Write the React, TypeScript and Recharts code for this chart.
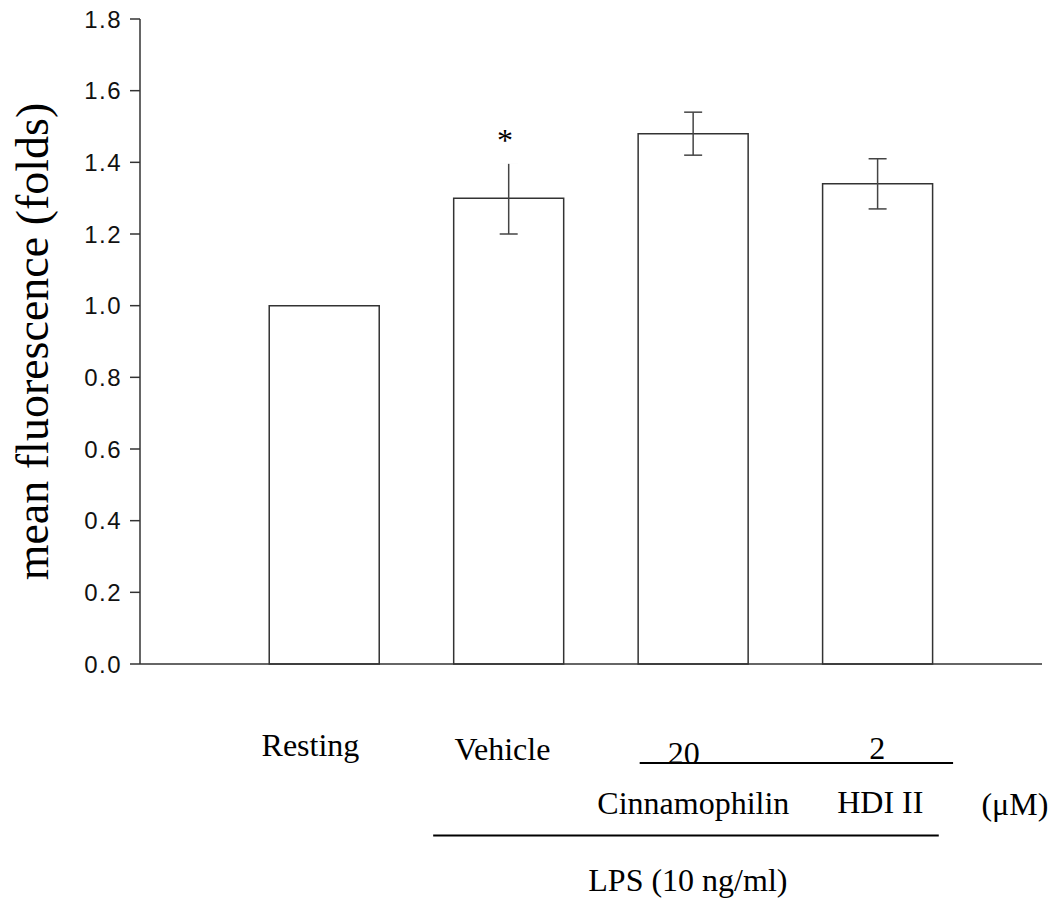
import React from 'react';
import { ComposedChart, Bar, ErrorBar, XAxis, YAxis, Scatter, Label } from 'recharts';

const categories = ['Resting', 'Vehicle', 'Cinnamophilin', 'HDI II'];
const topLabels = ['Resting', 'Vehicle', '20', '2'];
const bottomLabels = ['', '', 'Cinnamophilin', 'HDI II'];
const meanValues = [1.0, 1.3, 1.48, 1.34];
const semValues = [0, 0.1, 0.06, 0.07];
const significance = ['', '*', '', ''];
const yTicks = [0, 0.2, 0.4, 0.6, 0.8, 1.0, 1.2, 1.4, 1.6, 1.8];
const yAxisTitle = 'mean fluorescence (folds)';
const unitLabel = '(\u03bcM)';
const groupLabel = 'LPS (10 ng/ml)';

const data = categories.map((name, i) => ({
  pos: i,
  name,
  mean: meanValues[i],
  sem: semValues[i],
  sig: significance[i],
  sigTop: significance[i] ? meanValues[i] + semValues[i] : null,
}));

const SERIF = '"Liberation Serif", "Times New Roman", serif';
const SANS = '"Liberation Sans", Arial, sans-serif';
const FS = 32;

const topOffsets = [[-14, 92], [-6.5, 96], [-9.5, 100], [-0.5, 95]];
const bottomOffsets = [[0, 0], [0, 0], [0, 150], [2.5, 149]];

function XTick(props: any) {
  const { x, y, payload } = props;
  const i = payload.value as number;
  const [tdx, tdy] = topOffsets[i];
  const [bdx, bdy] = bottomOffsets[i];
  return (
    <g>
      <text x={x + tdx} y={y + tdy} textAnchor="middle" fontFamily={SERIF} fontSize={FS} fill="#000">
        {topLabels[i]}
      </text>
      {bottomLabels[i] ? (
        <text x={x + bdx} y={y + bdy} textAnchor="middle" fontFamily={SERIF} fontSize={FS} fill="#000">
          {bottomLabels[i]}
        </text>
      ) : null}
      {i === 2 ? (
        <g>
          <line x1={x - 53.7} x2={x + 259.7} y1={y + 99} y2={y + 99} stroke="#000" strokeWidth={2} />
          <line x1={x - 260.2} x2={x + 245.4} y1={y + 171.5} y2={y + 171.5} stroke="#000" strokeWidth={2} />
          <text x={x + 321.5} y={y + 151} textAnchor="middle" fontFamily={SERIF} fontSize={FS} fill="#000">
            {unitLabel}
          </text>
          <text x={x - 5.5} y={y + 227} textAnchor="middle" fontFamily={SERIF} fontSize={FS} fill="#000">
            {groupLabel}
          </text>
        </g>
      ) : null}
    </g>
  );
}

function YTick(props: any) {
  const { x, y, payload } = props;
  return (
    <text x={x} y={y} dy={8.5} textAnchor="end" fontFamily={SANS} fontSize={24} letterSpacing={1.5} fill="#111">
      {Number(payload.value).toFixed(1)}
    </text>
  );
}

function SigShape(props: any) {
  const { cx, cy, payload } = props;
  if (!payload || !payload.sig || cx == null || cy == null || isNaN(cy)) return <g />;
  return (
    <g>
      <rect x={cx - 31} y={cy - 49} width={73} height={50.5} fill="#fff" />
      <text x={cx - 4} y={cy - 11} textAnchor="middle" fontFamily={SERIF} fontSize={32} fill="#000">
        {payload.sig}
      </text>
    </g>
  );
}

function YTitle(props: any) {
  const vb = props.viewBox || { x: 0, y: 19, width: 132, height: 645 };
  const cy = vb.y + vb.height / 2;
  const x = 40;
  return (
    <text x={x} y={cy} transform={`rotate(-90, ${x}, ${cy})`} textAnchor="middle" fontFamily={SERIF} fontSize={46} fill="#000">
      {yAxisTitle}
    </text>
  );
}

export default function App() {
  return (
    <div style={{ position: 'absolute', left: 8, top: 0, width: 1047, height: 898, background: '#fff' }}>
      <ComposedChart width={1047} height={898} data={data} margin={{ top: 19, right: 13, bottom: 204, left: 0 }}>
        <XAxis
          type="number"
          dataKey="pos"
          domain={[-1, 3.89]}
          ticks={[0, 1, 2, 3]}
          interval={0}
          allowDataOverflow
          tickLine={false}
          tickSize={0}
          tickMargin={0}
          height={30}
          axisLine={{ stroke: '#333', strokeWidth: 1.5 }}
          tick={<XTick />}
        />
        <YAxis
          type="number"
          domain={[0, 1.8]}
          ticks={yTicks}
          interval={0}
          width={132}
          tickSize={10}
          tickMargin={8}
          axisLine={{ stroke: '#333', strokeWidth: 1.5 }}
          tickLine={{ stroke: '#333', strokeWidth: 1.5 }}
          tick={<YTick />}
        >
          <Label content={<YTitle />} />
        </YAxis>
        <Bar dataKey="mean" fill="#fff" stroke="#333" strokeWidth={1.5} barSize={110} isAnimationActive={false}>
          <ErrorBar dataKey="sem" width={9} stroke="#444" strokeWidth={1.5} direction="y" isAnimationActive={false} />
        </Bar>
        <Scatter dataKey="sigTop" shape={<SigShape />} isAnimationActive={false} />
      </ComposedChart>
    </div>
  );
}
